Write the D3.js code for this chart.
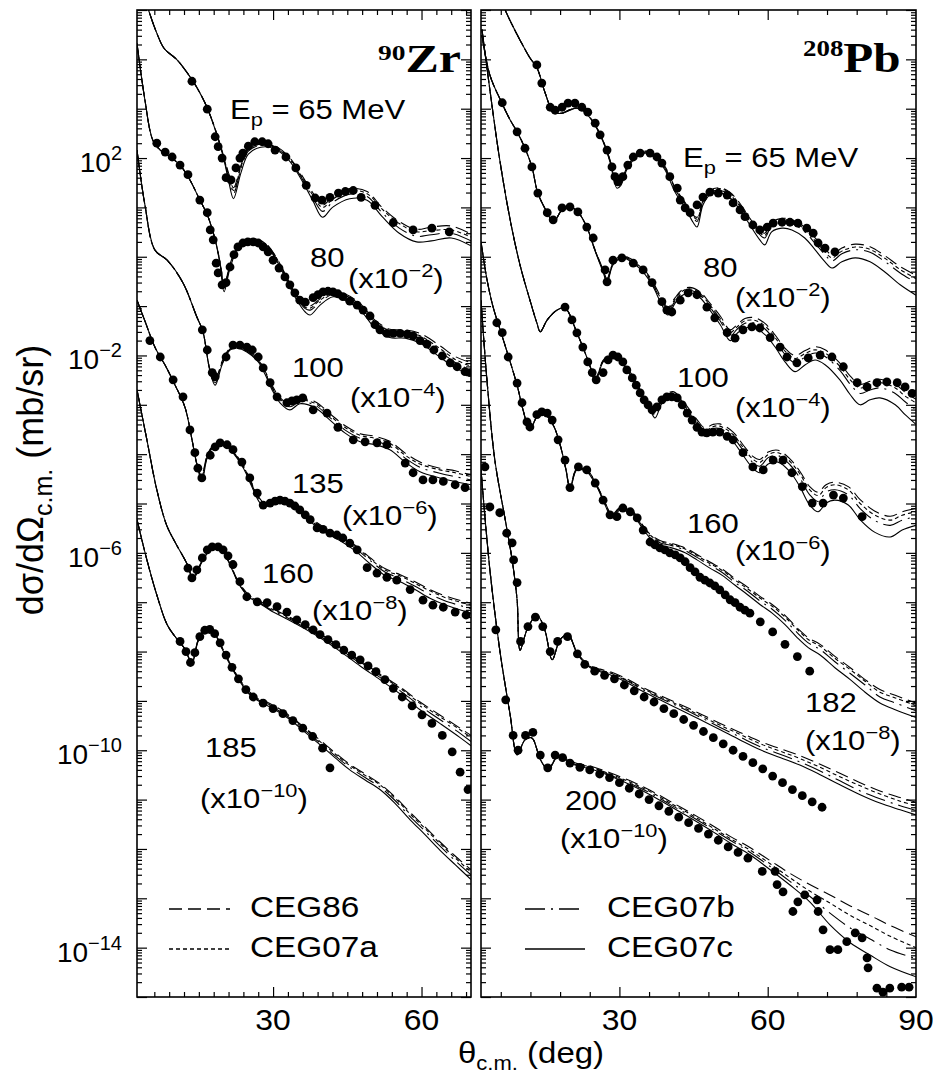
<!DOCTYPE html>
<html>
<head>
<meta charset="utf-8">
<script src="https://cdnjs.cloudflare.com/ajax/libs/d3/7.8.5/d3.min.js"></script>
<style>
  html, body { margin: 0; padding: 0; background: #fff; }
  svg { display: block; }
</style>
</head>
<body>
<svg id="chart" width="933" height="1076"></svg>
<script>
// ---------------------------------------------------------------------------
// Proton elastic scattering, dσ/dΩ (mb/sr) vs θc.m. (deg).
// Each energy has a shared angle grid for the four optical-model curves
// (CEG86, CEG07a, CEG07b, CEG07c) plus the measured points [θ, dσ/dΩ].
// Values are unscaled; the plotting offsets (x10^-n) are applied when drawn.
// ---------------------------------------------------------------------------

// ----- 90Zr -----
const zrEnergies = [65, 80, 100, 135, 160, 185];
const zrScales   = [1, 1e-2, 1e-4, 1e-6, 1e-8, 1e-10];

const zr65Theta  = [3, 5, 6.5, 8, 10.5, 12.5, 14.5, 16.5, 18.5, 20, 21, 22, 23.5, 25, 27.5, 30, 33, 35.5, 38, 40, 42, 45.5, 49, 52, 55.5, 59, 62, 66, 70];
const zr65CEG07c = [4.0e5, 8.9e4, 3.4e4, 1.66e4, 1.0e4, 5.6e3, 2.8e3, 1.15e3, 330, 100, 35, 15, 50, 120, 166, 158, 95, 40, 14, 6.3, 10, 15, 14, 6.6, 3.0, 2.0, 2.1, 2.4, 1.66];
const zr65CEG86  = [4.0e5, 8.9e4, 3.4e4, 1.66e4, 1.0e4, 5.6e3, 2.8e3, 1.15e3, 340, 110, 50, 25, 71, 158, 200, 186, 112, 50, 20, 11.2, 16, 24, 21, 10, 5.2, 3.6, 4.0, 4.2, 2.9];
const zr65CEG07a = [4.0e5, 8.9e4, 3.4e4, 1.66e4, 1.0e4, 5.6e3, 2.8e3, 1.15e3, 335, 105, 45, 22, 66, 148, 190, 178, 107, 47, 18, 10, 14.5, 22, 19, 9.3, 4.7, 3.2, 3.4, 3.5, 2.5];
const zr65CEG07b = [4.0e5, 8.9e4, 3.4e4, 1.66e4, 1.0e4, 5.6e3, 2.8e3, 1.15e3, 332, 103, 40, 19, 60, 138, 182, 170, 102, 44, 16, 8.3, 12.6, 18.6, 16.6, 7.9, 3.8, 2.6, 2.8, 3.0, 2.1];
const zr65Data = [[13.6,3.6e3],[16.7,980],[18.3,270],[18.9,170],[19.7,100],[20.5,40],[21.5,36],[22.5,63],[23.3,100],[23.9,126],[25,174],[26.3,214],[27.8,214],[29,195],[30.4,145],[32.6,105],[34.6,63],[36.7,28],[38.5,15.5],[39.9,14],[41.5,16],[43.2,19.5],[44.6,21],[46.2,22],[47.8,16],[50.6,11],[54.3,4.9],[58.3,3.5],[62.1,3.8],[65.6,3.2]];

const zr80Theta  = [2.5, 4.1, 5.7, 7.2, 9.2, 11.2, 13.2, 15.2, 16.7, 18.3, 19.3, 20.1, 21.3, 22.9, 24.4, 26.4, 28.4, 30.4, 32.4, 34.4, 36.5, 37.5, 39.5, 42.1, 44.5, 47.6, 50.6, 53.6, 56.7, 59.7, 63.7, 66.8, 70];
const zr80CEG07c = [2.1e6, 1.5e5, 2.3e4, 1.45e4, 1.05e4, 7.2e3, 3.6e3, 1.41e3, 710, 220, 68, 19.5, 59, 150, 200, 209, 174, 95, 39, 15.5, 7.6, 6.6, 10.5, 15.5, 13.2, 8.3, 3.6, 2.3, 2.24, 1.78, 0.93, 0.56, 0.40];
const zr80CEG86  = [2.1e6, 1.5e5, 2.3e4, 1.45e4, 1.05e4, 7.2e3, 3.6e3, 1.41e3, 710, 220, 76, 26, 71, 170, 219, 229, 190, 107, 46, 19, 10.5, 10, 14, 20, 17.8, 11.2, 5.2, 3.4, 3.3, 2.8, 1.58, 0.95, 0.71];
const zr80CEG07a = [2.1e6, 1.5e5, 2.3e4, 1.45e4, 1.05e4, 7.2e3, 3.6e3, 1.41e3, 710, 220, 74, 25, 68, 162, 214, 224, 186, 105, 44, 18, 9.5, 9.1, 13.2, 18.6, 16.6, 10.5, 4.8, 3.2, 3.0, 2.5, 1.38, 0.83, 0.6];
const zr80CEG07b = [2.1e6, 1.5e5, 2.3e4, 1.45e4, 1.05e4, 7.2e3, 3.6e3, 1.41e3, 710, 220, 72, 24, 65, 158, 209, 219, 182, 100, 42, 17, 8.9, 8.3, 12, 17.4, 15, 9.5, 4.4, 2.8, 2.7, 2.2, 1.2, 0.72, 0.5];
const zr80Data = [[6.5,2.0e4],[8.2,1.32e4],[9.6,1.05e4],[11.2,7.2e3],[12.8,4.6e3],[15.2,1.41e3],[16.7,780],[17.3,350],[17.9,220],[18.5,74],[18.9,47],[19.7,27],[20.5,30],[21.3,62],[22.1,110],[22.9,158],[23.9,190],[24.9,200],[26,200],[27,190],[28,158],[29,126],[30,85],[31.2,59],[32.4,39],[33.4,27],[34.4,18.6],[35.4,13.2],[36.5,12],[38.1,14.8],[39.1,17],[40.1,19.5],[41.1,20],[42.1,19.5],[43.1,17.8],[44.1,15.5],[45.5,12.6],[47,10.5],[48.2,8.3],[49.6,6.3],[50.6,4.2],[51.6,3.3],[53,2.8],[54.3,2.8],[55.7,2.8],[57.1,2.7],[58.3,2.5],[59.7,2.0],[61.1,1.7],[62.5,1.29],[64.2,0.98],[65.8,0.71],[67.2,0.59],[68.8,0.47],[69.8,0.45]];

const zr100Theta  = [2.5, 4.1, 6.1, 8.6, 11.8, 14.6, 15.8, 17.3, 18.3, 19.7, 21.3, 22.9, 24.7, 27, 28.4, 29.8, 31.4, 33.4, 35.4, 38.5, 41.5, 44.5, 47.6, 50.6, 53.6, 56.7, 59.7, 63.7, 66.8, 70];
const zr100CEG07c = [1.45e6, 1.12e5, 1.38e4, 8.5e3, 2.95e3, 600, 310, 45, 25, 65, 129, 141, 117, 74, 41, 20, 11, 7.9, 10.5, 8.7, 4.9, 2.7, 1.78, 1.55, 1.23, 0.69, 0.44, 0.33, 0.28, 0.24];
const zr100CEG86  = [1.45e6, 1.12e5, 1.38e4, 8.5e3, 2.95e3, 600, 310, 50, 32, 76, 145, 158, 132, 85, 48, 25, 14, 10.5, 13.2, 11.5, 6.6, 3.8, 2.6, 2.3, 1.82, 1.05, 0.69, 0.52, 0.46, 0.38];
const zr100CEG07a = [1.45e6, 1.12e5, 1.38e4, 8.5e3, 2.95e3, 600, 310, 48, 30, 72, 141, 155, 129, 81, 46, 23, 13.2, 9.8, 12.3, 10.7, 6.0, 3.5, 2.4, 2.1, 1.66, 0.95, 0.63, 0.48, 0.42, 0.35];
const zr100CEG07b = [1.45e6, 1.12e5, 1.38e4, 8.5e3, 2.95e3, 600, 310, 47, 28, 69, 135, 148, 123, 78, 44, 22, 12.3, 9.1, 11.5, 9.8, 5.5, 3.1, 2.1, 1.82, 1.45, 0.83, 0.54, 0.41, 0.35, 0.30];
const zr100Data = [[15.7,330],[16.7,129],[17.7,45],[18.3,37],[20.5,93],[21.9,162],[23.3,162],[24.7,148],[25.8,129],[27,93],[28,56],[29.4,28],[30.8,14.5],[32.8,11],[33.8,12],[34.8,12.6],[36,13.8],[38.1,7.9],[40.9,6.8],[43.1,3.5],[46.2,1.95],[48.6,1.78],[51,1.7],[53,1.55],[56.7,0.66],[58.3,0.42],[60.3,0.30],[62.3,0.30],[64.4,0.28],[66.8,0.24],[68.8,0.21]];

const zr135Theta  = [2.5, 4.1, 6.2, 8.2, 10.2, 12.2, 13.6, 14.6, 15.6, 16.6, 17.6, 19.3, 20.9, 22.5, 24.1, 25.7, 27.1, 28.2, 29.8, 31.6, 33.6, 35.6, 37.6, 40.5, 43.5, 46.5, 49.6, 52.6, 55.7, 58.7, 61.7, 64.7, 70];
const zr135CEG07c = [1.32e5, 5.0e4, 1.41e4, 6.3e3, 2.5e3, 890, 200, 63, 28, 79, 126, 151, 135, 89, 50, 22, 11.2, 8.5, 10, 10.5, 8.9, 6.3, 4.2, 2.6, 1.78, 1.12, 0.6, 0.35, 0.26, 0.18, 0.12, 0.089, 0.06];
const zr135CEG86  = [1.32e5, 5.0e4, 1.41e4, 6.3e3, 2.5e3, 890, 200, 63, 40, 89, 138, 162, 145, 98, 56, 26, 13.5, 10.5, 12, 12.3, 10.5, 7.6, 5.1, 3.2, 2.2, 1.45, 0.8, 0.48, 0.36, 0.26, 0.18, 0.135, 0.095];
const zr135CEG07a = [1.32e5, 5.0e4, 1.41e4, 6.3e3, 2.5e3, 890, 200, 63, 36, 86, 135, 158, 141, 95, 54, 25, 13, 10, 11.5, 11.7, 10, 7.2, 4.8, 3.0, 2.1, 1.38, 0.76, 0.45, 0.34, 0.24, 0.17, 0.125, 0.087];
const zr135CEG07b = [1.32e5, 5.0e4, 1.41e4, 6.3e3, 2.5e3, 890, 200, 63, 33, 83, 132, 155, 138, 93, 52, 24, 12.3, 9.5, 11, 11.2, 9.6, 6.8, 4.5, 2.8, 1.95, 1.26, 0.7, 0.41, 0.3, 0.21, 0.145, 0.107, 0.074];
const zr135Data = [[5.1,2.0e4],[7.2,9.3e3],[9.8,3.2e3],[11.8,1.45e3],[13.2,310],[14.2,107],[14.8,52],[15.6,33],[17.3,95],[18.3,141],[19.3,170],[20.7,155],[21.9,123],[23.7,69],[25.3,33],[26.8,16.2],[28,9.3],[29.4,10.2],[30.4,11.2],[31.4,11.7],[32.4,11.2],[33.4,10.2],[34.4,8.9],[35.4,7.4],[36.5,5.9],[37.5,4.7],[38.9,3.2],[40.1,3.0],[41.5,2.5],[42.9,2.3],[44.1,2.0],[45.5,1.58],[47,1.15],[49,0.5],[51,0.39],[53,0.32],[55,0.28],[57.7,0.18],[60.3,0.11],[62.3,0.087],[64.4,0.079],[66.8,0.063],[69,0.055]];

const zr160Theta  = [2.5, 4.5, 6.5, 8.5, 10.5, 12.6, 13.8, 14.6, 15.6, 17.0, 18.5, 20.0, 21.6, 23.2, 25.3, 27.4, 29.4, 32.4, 35.4, 39.5, 43.5, 47.6, 51.6, 55.7, 59.7, 63.7, 67.8, 70];
const zr160CEG07c = [2.0e5, 1.95e4, 1.9e3, 360, 145, 60, 29, 38, 65, 105, 126, 100, 49, 22, 12.3, 9.3, 6.9, 4.8, 3.3, 1.9, 1.02, 0.51, 0.27, 0.138, 0.066, 0.035, 0.018, 0.0123];
const zr160CEG86  = [2.0e5, 1.95e4, 1.9e3, 360, 145, 60, 32, 41, 68, 107, 128, 102, 51, 24, 13.5, 10.5, 7.9, 5.6, 3.9, 2.3, 1.26, 0.65, 0.35, 0.19, 0.095, 0.052, 0.028, 0.02];
const zr160CEG07a = [2.0e5, 1.95e4, 1.9e3, 360, 145, 60, 31, 40, 67, 106, 127, 101, 50, 23, 13, 10, 7.6, 5.4, 3.7, 2.2, 1.2, 0.62, 0.33, 0.18, 0.089, 0.048, 0.026, 0.018];
const zr160CEG07b = [2.0e5, 1.95e4, 1.9e3, 360, 145, 60, 30, 39, 66, 105, 126, 100, 50, 22.5, 12.6, 9.6, 7.2, 5.1, 3.5, 2.05, 1.12, 0.57, 0.3, 0.16, 0.079, 0.042, 0.022, 0.015];
const zr160Data = [[12.8,49],[13.6,31],[14.6,45],[15.7,79],[16.7,115],[17.7,132],[18.9,132],[19.9,115],[20.9,87],[21.9,58],[23.3,26],[24.7,12.9],[26.8,10.2],[28.8,9.8],[30.8,8.1],[32.8,6.3],[34.8,4.4],[36.5,3.5],[38.1,2.75],[39.5,2.2],[41.1,1.74],[42.7,1.38],[44.3,1.07],[45.9,0.85],[47.6,0.68],[49.2,0.51],[50.8,0.39],[52.6,0.27],[54.3,0.18],[56.1,0.12],[58.1,0.079],[60.1,0.052],[62.1,0.035],[64.2,0.02],[66.2,0.0093],[67.8,0.0036],[69.4,0.0016]];

const zr185Theta  = [2.5, 4.5, 6.5, 8.6, 10.6, 12.2, 13.6, 14.8, 16.2, 17.7, 19.3, 21.3, 23.3, 25.3, 27.4, 30.4, 33.4, 36.5, 39.5, 42.5, 45.5, 48.6, 51.6, 54.6, 57.7, 60.7, 63.7, 66.8, 70];
const zr185CEG07c = [4.7e4, 7.2e3, 1.41e3, 350, 178, 112, 56, 158, 282, 275, 138, 54, 24.5, 13.2, 9.5, 6.6, 4.2, 2.3, 1.29, 0.71, 0.4, 0.25, 0.16, 0.085, 0.039, 0.0195, 0.0095, 0.0048, 0.0024];
const zr185CEG86  = [4.7e4, 7.2e3, 1.41e3, 350, 178, 112, 62, 165, 290, 285, 145, 58, 27, 15, 11, 7.8, 5.0, 2.8, 1.6, 0.9, 0.52, 0.33, 0.21, 0.115, 0.055, 0.028, 0.014, 0.0072, 0.0038];
const zr185CEG07a = [4.7e4, 7.2e3, 1.41e3, 350, 178, 112, 60, 162, 286, 280, 142, 57, 26, 14.5, 10.5, 7.4, 4.8, 2.7, 1.5, 0.85, 0.49, 0.31, 0.2, 0.108, 0.051, 0.026, 0.013, 0.0066, 0.0034];
const zr185CEG07b = [4.7e4, 7.2e3, 1.41e3, 350, 178, 112, 58, 160, 284, 278, 140, 56, 25, 13.8, 10, 7.0, 4.5, 2.5, 1.4, 0.78, 0.45, 0.28, 0.18, 0.097, 0.045, 0.023, 0.0115, 0.0058, 0.003];
const zr185Data = [[11.2,160],[12.4,100],[13.3,60],[14.2,95],[15.2,200],[16.2,270],[17.2,280],[18.2,230],[19.3,150],[20.5,85],[21.7,48],[23,28],[24.5,17],[26,12],[28,9],[30,7],[32,5.5],[34,4],[36,2.8],[38,1.9],[40,1.1],[41.5,0.44]];

// ----- 208Pb -----
const pbEnergies = [65, 80, 100, 160, 182, 200];
const pbScales   = [1, 1e-2, 1e-4, 1e-6, 1e-8, 1e-10];

const pb65Theta  = [6, 6.9, 8.3, 9.9, 11.9, 13.3, 14.9, 16.4, 17.4, 18.6, 20, 21.4, 23, 25, 26.7, 28.1, 29.5, 30.3, 31.5, 33.2, 35.2, 37.2, 39.2, 41.3, 43.3, 44.9, 45.7, 46.9, 48.3, 50.4, 52.4, 54.4, 56.4, 58.4, 59.4, 60.8, 62.9, 64.9, 67.5, 69.6, 71.6, 73, 75, 77.7, 80.7, 83.7, 86.8, 90];
const pb65CEG07c = [1.78e5, 1.0e5, 5.0e4, 2.45e4, 1.07e4, 6.8e3, 2.2e3, 930, 810, 810, 930, 1.02e3, 850, 470, 214, 83, 24.5, 28, 58, 100, 126, 105, 58, 20, 9.8, 5.0, 4.0, 11.2, 17.8, 19.5, 15.5, 8.9, 4.4, 2.2, 1.74, 3.2, 3.8, 3.5, 2.4, 1.38, 0.79, 0.59, 0.79, 0.95, 0.79, 0.49, 0.27, 0.166];
const pb65CEG86  = [1.78e5, 1.0e5, 5.0e4, 2.45e4, 1.07e4, 6.8e3, 2.2e3, 930, 810, 830, 960, 1.05e3, 880, 490, 225, 92, 30, 33, 64, 110, 138, 118, 68, 25, 12.5, 7.0, 6.3, 13.5, 22, 25, 20, 12, 6.0, 3.4, 3.0, 5.0, 6.0, 5.6, 4.0, 2.4, 1.45, 1.1, 1.5, 1.8, 1.6, 1.05, 0.63, 0.42];
const pb65CEG07a = [1.78e5, 1.0e5, 5.0e4, 2.45e4, 1.07e4, 6.8e3, 2.2e3, 930, 810, 825, 955, 1.04e3, 875, 485, 222, 90, 29, 32, 63, 108, 135, 115, 65, 24, 12, 6.6, 5.8, 13, 21, 24, 19, 11.2, 5.6, 3.1, 2.7, 4.6, 5.6, 5.2, 3.6, 2.1, 1.26, 0.95, 1.3, 1.58, 1.41, 0.93, 0.55, 0.36];
const pb65CEG07b = [1.78e5, 1.0e5, 5.0e4, 2.45e4, 1.07e4, 6.8e3, 2.2e3, 930, 810, 820, 945, 1.03e3, 865, 480, 219, 88, 28, 31, 61, 105, 132, 112, 63, 23, 11.2, 6.2, 5.2, 12.3, 20, 22, 17.8, 10.5, 5.2, 2.8, 2.4, 4.2, 5.0, 4.7, 3.2, 1.86, 1.1, 0.82, 1.15, 1.38, 1.23, 0.8, 0.47, 0.3];
const pb65Data = [[13.3,7.7e3],[14.3,3.3e3],[16,1.07e3],[17,930],[18.4,1.07e3],[19.6,1.3e3],[21,1.3e3],[22.4,1.07e3],[23.6,850],[25.1,510],[26.1,295],[27.5,145],[28.5,66],[29.1,42],[29.7,33],[30.7,42],[31.7,72],[32.8,105],[34.2,126],[36.2,126],[37.6,105],[38.6,79],[40.2,42],[41.7,24.5],[42.3,14.1],[43.3,9.8],[44.3,7.8],[45.7,11.2],[46.9,16.2],[48.3,20.4],[50,19.5],[51.8,17.8],[53,12.3],[54.4,8.9],[55.4,6.5],[57,4.4],[58.4,3.5],[59.9,4.0],[61.1,4.8],[62.9,5.0],[64.5,5.0],[66.1,4.8],[67.9,3.8],[69.2,3.0],[70.2,1.9],[71.6,1.5],[73.6,1.26]];

const pb80Theta  = [2.2, 3.8, 6.2, 7.9, 9.3, 10.9, 12.3, 13.5, 15.4, 16.6, 18.4, 20, 21.6, 23.4, 25, 26.7, 27.5, 28.7, 30.5, 32.8, 34.8, 36.6, 38.6, 39.8, 41.2, 42.6, 44.2, 46.3, 48.3, 50.4, 52.4, 53.8, 55.4, 57.5, 59.5, 61.5, 63.5, 65.5, 67.6, 69.6, 71.6, 74.6, 76.7, 78.7, 80.7, 82.7, 85.8, 87.8, 90];
const pb80CEG07c = [3.1e6, 4.8e5, 1.32e5, 5.9e4, 3.4e4, 1.58e4, 6.6e3, 1.95e3, 780, 500, 890, 1.02e3, 810, 400, 138, 49, 30, 68, 95, 74, 49, 27, 10.5, 6.6, 11.2, 16.2, 18.6, 14.8, 8.3, 4.2, 2.0, 2.8, 3.6, 3.6, 2.6, 1.48, 0.74, 0.47, 0.65, 0.81, 0.65, 0.32, 0.16, 0.1, 0.126, 0.138, 0.1, 0.063, 0.04];
const pb80CEG86  = [3.1e6, 4.8e5, 1.32e5, 5.9e4, 3.4e4, 1.58e4, 6.6e3, 1.95e3, 780, 500, 890, 1.02e3, 810, 400, 145, 55, 36, 75, 105, 85, 58, 33, 14, 9.5, 14.5, 21, 24, 19.5, 11.5, 6.3, 3.3, 4.2, 5.6, 5.8, 4.4, 2.6, 1.4, 1.0, 1.26, 1.5, 1.3, 0.7, 0.38, 0.26, 0.3, 0.33, 0.26, 0.18, 0.13];
const pb80CEG07a = [3.1e6, 4.8e5, 1.32e5, 5.9e4, 3.4e4, 1.58e4, 6.6e3, 1.95e3, 780, 500, 890, 1.02e3, 810, 400, 142, 53, 34, 73, 102, 81, 55, 31, 13, 8.8, 13.5, 19.5, 22.5, 18, 10.5, 5.6, 2.9, 3.8, 5.0, 5.1, 3.9, 2.3, 1.23, 0.87, 1.1, 1.3, 1.12, 0.6, 0.32, 0.22, 0.25, 0.28, 0.22, 0.15, 0.11];
const pb80CEG07b = [3.1e6, 4.8e5, 1.32e5, 5.9e4, 3.4e4, 1.58e4, 6.6e3, 1.95e3, 780, 500, 890, 1.02e3, 810, 400, 140, 51, 32, 71, 99, 78, 52, 29, 12, 7.8, 12.5, 18, 21, 16.6, 9.5, 5.0, 2.5, 3.4, 4.5, 4.5, 3.4, 2.0, 1.05, 0.71, 0.93, 1.12, 0.95, 0.5, 0.26, 0.17, 0.2, 0.22, 0.17, 0.115, 0.08];
const pb80Data = [[6.3,1.32e5],[9.3,3.4e4],[10.9,1.58e4],[12.3,6.6e3],[13.5,1.95e3],[15.4,780],[16.6,560],[18.4,980],[20,1.02e3],[21.6,810],[23.4,400],[24.7,240],[27.1,54],[27.5,31],[28.7,85],[30.5,95],[32.8,74],[34.8,54],[36.6,30],[38.6,12.3],[39.6,8.3],[40.6,7.6],[42.3,13.2],[43.9,18.6],[45.7,17],[47.7,9.5],[49.3,5.8],[51.8,2.9],[53.4,2.24],[55,3.3],[56.8,3.8],[58.4,3.6],[60.5,2.3],[62.5,1.48],[63.9,0.93],[65.9,0.71],[68.2,0.89],[70.6,1.02],[73,0.93],[75.3,0.59],[78.1,0.28],[80.1,0.23],[82.1,0.28],[84.1,0.29],[86.2,0.28],[87.8,0.23],[89.2,0.17]];

const pb100Theta  = [2.2, 3.8, 5.8, 7.9, 9.9, 11.9, 13.3, 14, 15.4, 17.4, 19, 21.4, 22.6, 24.1, 25.1, 26.7, 28.1, 29.5, 31.5, 33.2, 34.8, 36.2, 37.2, 38.8, 40.8, 42.2, 43.7, 45.7, 47.3, 48.9, 50.3, 53, 55, 57, 58.4, 60.1, 62.1, 64.5, 66.5, 68.5, 70.2, 71.8, 73.6, 76.3, 78.7, 81.7, 84.8, 87.2, 90];
const pb100CEG07c = [4.0e8, 2.4e7, 9.1e5, 5.6e4, 6.8e3, 1.32e3, 457, 302, 525, 832, 912, 288, 148, 59, 28.8, 74, 93, 89, 51, 27.5, 12.6, 7.9, 5.4, 11.5, 14.5, 11, 6.8, 3.5, 2.3, 2.8, 2.8, 1.78, 0.95, 0.52, 0.42, 0.63, 0.69, 0.44, 0.22, 0.093, 0.068, 0.102, 0.117, 0.093, 0.047, 0.026, 0.021, 0.029, 0.036];
const pb100CEG86  = [4.0e8, 2.4e7, 9.1e5, 5.6e4, 6.8e3, 1.32e3, 457, 302, 525, 832, 912, 288, 148, 59, 33, 80, 100, 98, 57, 32, 15.5, 10, 7.5, 14.5, 18.5, 14.5, 9.3, 5.0, 3.4, 4.0, 4.1, 2.8, 1.55, 0.9, 0.78, 1.1, 1.2, 0.8, 0.45, 0.22, 0.17, 0.24, 0.27, 0.22, 0.12, 0.07, 0.055, 0.068, 0.08];
const pb100CEG07a = [4.0e8, 2.4e7, 9.1e5, 5.6e4, 6.8e3, 1.32e3, 457, 302, 525, 832, 912, 288, 148, 59, 31.5, 78, 97, 95, 55, 30.5, 14.5, 9.3, 6.8, 13.5, 17.4, 13.5, 8.5, 4.5, 3.0, 3.6, 3.7, 2.5, 1.38, 0.79, 0.68, 0.98, 1.07, 0.71, 0.4, 0.19, 0.145, 0.21, 0.24, 0.19, 0.1, 0.058, 0.046, 0.058, 0.068];
const pb100CEG07b = [4.0e8, 2.4e7, 9.1e5, 5.6e4, 6.8e3, 1.32e3, 457, 302, 525, 832, 912, 288, 148, 59, 30.5, 76, 95, 93, 53, 29, 13.8, 8.7, 6.2, 12.8, 16.2, 12.6, 7.9, 4.1, 2.7, 3.3, 3.3, 2.2, 1.2, 0.68, 0.57, 0.85, 0.93, 0.61, 0.33, 0.15, 0.11, 0.17, 0.19, 0.15, 0.079, 0.045, 0.036, 0.046, 0.054];
const pb100Data = [[19,955],[20.4,525],[21.4,288],[22.6,148],[23.6,74],[24.5,45],[25.3,32],[26.7,45],[27.7,81],[28.7,102],[29.7,93],[30.7,74],[31.5,51],[32.6,35],[33.4,25],[34.2,17.4],[35,12.6],[35.8,10],[36.6,7.9],[37.6,9.1],[38.6,12.6],[39.6,14.5],[40.6,14.5],[41.7,13.8],[42.7,10],[43.7,6.8],[44.7,4.9],[45.7,3.5],[46.7,2.8],[47.7,2.7],[48.9,2.8],[50.3,2.8],[51.8,2.3],[53,1.95],[55,1.07],[57,0.55],[59.1,0.48],[61.1,0.76],[63.1,0.76],[64.9,0.42],[67,0.22],[69,0.102],[71.2,0.102],[73.3,0.148],[75.3,0.129],[79.1,0.054]];

const pb160Theta  = [2, 3.2, 4.4, 5.8, 7.5, 9.3, 10.5, 11.9, 13.3, 14.9, 16.6, 18, 19.2, 20, 21.4, 23.4, 25.5, 27.1, 28.5, 30.1, 32.2, 34.2, 36.2, 38.2, 40.6, 43.3, 45.7, 48.3, 50.8, 53.4, 56, 58.5, 60.9, 63.5, 66, 68.2, 70.6, 73.6, 76.7, 79.7, 82.7, 85.8, 90];
const pb160CEG07c = [2.0e6, 3.5e5, 1.0e5, 3.5e4, 1.0e4, 2.5e3, 790, 310, 560, 630, 390, 155, 48, 19, 48, 44, 21, 9.3, 5.1, 7.4, 6.8, 3.7, 2.0, 1.45, 1.26, 1.0, 0.72, 0.49, 0.35, 0.22, 0.14, 0.089, 0.06, 0.035, 0.019, 0.012, 0.0085, 0.0047, 0.0027, 0.0015, 0.00091, 0.00066, 0.00046];
const pb160CEG86  = [2.0e6, 3.5e5, 1.0e5, 3.5e4, 1.0e4, 2.5e3, 790, 310, 560, 630, 390, 155, 48, 22, 52, 48, 23, 10.5, 6, 8.3, 7.8, 4.3, 2.4, 1.78, 1.55, 1.26, 0.93, 0.65, 0.47, 0.3, 0.2, 0.13, 0.09, 0.054, 0.03, 0.019, 0.014, 0.008, 0.0047, 0.0027, 0.0017, 0.0013, 0.0009];
const pb160CEG07a = [2.0e6, 3.5e5, 1.0e5, 3.5e4, 1.0e4, 2.5e3, 790, 310, 560, 630, 390, 155, 48, 21, 51, 47, 22.5, 10.2, 5.8, 8.1, 7.6, 4.2, 2.3, 1.7, 1.48, 1.2, 0.88, 0.61, 0.44, 0.28, 0.185, 0.12, 0.083, 0.05, 0.028, 0.0175, 0.0128, 0.0073, 0.0043, 0.0025, 0.0015, 0.00115, 0.0008];
const pb160CEG07b = [2.0e6, 3.5e5, 1.0e5, 3.5e4, 1.0e4, 2.5e3, 790, 310, 560, 630, 390, 155, 48, 20, 50, 46, 22, 9.8, 5.5, 7.8, 7.2, 4.0, 2.2, 1.6, 1.4, 1.12, 0.81, 0.56, 0.4, 0.25, 0.165, 0.105, 0.072, 0.043, 0.024, 0.015, 0.011, 0.0062, 0.0036, 0.0021, 0.0012, 0.00091, 0.00063];
const pb160Data = [[5.2,4.6e4],[6.3,2.9e4],[7.5,9.3e3],[9.3,2.75e3],[10.3,1.1e3],[11.3,450],[11.9,355],[13.3,630],[14.3,720],[15.4,680],[16.4,490],[17.6,195],[19,76],[20,21],[21.7,55],[23.4,48],[25.1,26],[26.7,11.7],[28.1,5.9],[29.5,5.4],[30.7,8.1],[32.2,6.8],[33.6,5.1],[34.8,2.9],[36.2,1.66],[37.2,1.45],[38.2,1.26],[39.2,1.15],[40.2,1.0],[41.3,0.91],[42.3,0.79],[43.3,0.66],[44.3,0.5],[45.3,0.41],[46.3,0.32],[47.3,0.28],[48.3,0.245],[49.3,0.214],[50.3,0.178],[51.4,0.141],[52.4,0.112],[53.4,0.098],[54.4,0.079],[55.4,0.069],[56.4,0.06],[58.5,0.04],[61,0.025],[63.5,0.014],[66,0.0079],[68.5,0.004]];

const pb182Theta  = [2, 3.2, 4.8, 6.9, 8.3, 9.3, 9.9, 11.3, 13.3, 14.9, 16.4, 18, 19.6, 21.6, 24.1, 26.1, 28.1, 31.2, 34.2, 38.2, 42.3, 46.3, 50.4, 54.4, 58.5, 62.5, 66.5, 70.6, 74.6, 78.7, 82.7, 86.8, 90];
const pb182CEG07c = [1.3e7, 3.2e5, 7.6e3, 470, 72, 11.2, 1.07, 2.75, 5.5, 2.75, 0.68, 1.74, 2.2, 0.85, 0.47, 0.39, 0.34, 0.245, 0.166, 0.105, 0.066, 0.042, 0.026, 0.0162, 0.0102, 0.0071, 0.005, 0.0032, 0.002, 0.00126, 0.00085, 0.00062, 0.00049];
const pb182CEG86  = [1.3e7, 3.2e5, 7.6e3, 470, 72, 11.2, 1.07, 2.75, 5.5, 2.75, 0.68, 1.74, 2.2, 0.9, 0.52, 0.44, 0.39, 0.29, 0.2, 0.13, 0.085, 0.055, 0.035, 0.023, 0.015, 0.0108, 0.0078, 0.0052, 0.0034, 0.0022, 0.0015, 0.0011, 0.00088];
const pb182CEG07a = [1.3e7, 3.2e5, 7.6e3, 470, 72, 11.2, 1.07, 2.75, 5.5, 2.75, 0.68, 1.74, 2.2, 0.88, 0.5, 0.42, 0.37, 0.275, 0.188, 0.122, 0.079, 0.051, 0.032, 0.021, 0.0135, 0.0096, 0.0068, 0.0045, 0.0029, 0.0019, 0.0013, 0.00093, 0.00074];
const pb182CEG07b = [1.3e7, 3.2e5, 7.6e3, 470, 72, 11.2, 1.07, 2.75, 5.5, 2.75, 0.68, 1.74, 2.2, 0.87, 0.49, 0.41, 0.36, 0.265, 0.18, 0.115, 0.074, 0.047, 0.029, 0.0185, 0.0118, 0.0083, 0.0058, 0.0038, 0.0024, 0.0015, 0.00104, 0.00075, 0.0006];
const pb182Data = [[2.8,5.5e3],[3.8,850],[5.8,650],[7.2,250],[8.3,160],[8.6,72],[9.3,25],[10,1.6],[11.5,3.2],[13,5],[14.5,3.2],[16,1],[17.5,1.6],[19.5,2],[21.5,0.9],[23,0.55],[25,0.4],[27,0.33],[29,0.28],[31,0.21],[33,0.16],[35,0.12],[37,0.095],[39,0.07],[41,0.055],[43,0.042],[45,0.032],[47,0.024],[49,0.018],[51,0.0135],[53,0.01],[55,0.0075],[57,0.0056],[59,0.0042],[61,0.003],[63,0.0022],[65,0.0016],[67,0.0012],[69,0.0009],[71,0.0007]];

const pb200Theta  = [2, 3.8, 5.8, 7.9, 9.3, 10.9, 12.3, 14, 15.6, 17.4, 19, 21, 24.1, 28.1, 32.2, 36.2, 40.2, 44.3, 48.3, 52.4, 56.4, 60.5, 64.5, 68.5, 72.6, 76.7, 80.7, 84.8, 90];
const pb200CEG07c = [4.8e5, 4.5e3, 107, 5.2, 0.81, 1.62, 1.78, 0.65, 0.40, 0.71, 0.65, 0.5, 0.42, 0.30, 0.2, 0.126, 0.074, 0.043, 0.0245, 0.0132, 0.0076, 0.0038, 0.00186, 0.00085, 0.00029, 0.000126, 0.000071, 0.000041, 0.0000257];
const pb200CEG86  = [4.8e5, 4.5e3, 107, 5.2, 0.81, 1.62, 1.78, 0.65, 0.42, 0.76, 0.72, 0.56, 0.48, 0.35, 0.24, 0.155, 0.093, 0.055, 0.032, 0.018, 0.0107, 0.0058, 0.0032, 0.0019, 0.00117, 0.0007, 0.00045, 0.00028, 0.000166];
const pb200CEG07a = [4.8e5, 4.5e3, 107, 5.2, 0.81, 1.62, 1.78, 0.65, 0.41, 0.74, 0.69, 0.54, 0.46, 0.33, 0.225, 0.145, 0.086, 0.051, 0.029, 0.0163, 0.0095, 0.005, 0.0026, 0.0014, 0.0008, 0.00045, 0.00028, 0.00017, 0.0001];
const pb200CEG07b = [4.8e5, 4.5e3, 107, 5.2, 0.81, 1.62, 1.78, 0.65, 0.405, 0.72, 0.67, 0.52, 0.44, 0.315, 0.212, 0.136, 0.08, 0.047, 0.027, 0.015, 0.0086, 0.0044, 0.0022, 0.0011, 0.0005, 0.00025, 0.00015, 0.00009, 0.00006];
const pb200Data = [[5,275],[7,10.5],[8.5,2.0],[9.5,1.0],[11,2.0],[12.5,2.3],[14,0.8],[15.5,0.44],[17,0.8],[18.5,0.71],[20,0.55],[22,0.45],[24,0.4],[26,0.33],[28,0.28],[30,0.22],[32,0.17],[34,0.13],[36,0.1],[38,0.075],[40,0.058],[42,0.044],[44,0.034],[46,0.026],[48,0.02],[50,0.015],[52,0.011],[54,0.0085],[56,0.0065],[58.9,0.0035],[61.5,0.0035],[61.9,0.0019],[63.1,0.00135],[65.1,0.00054],[66.1,0.00085],[67.5,0.00117],[70,0.00093],[70.2,0.00054],[71.2,0.00023],[72.6,0.000091],[74.2,0.000091],[76,0.000132],[77.7,0.0002],[79.1,0.000158],[80.1,0.000062],[80.3,0.000039],[82.1,0.0000151],[83.3,0.0000126],[84.7,0.0000151],[87.1,0.0000158],[88.6,0.0000158]];

// ----- model line styles -----
const modelKeys   = ['CEG86', 'CEG07a', 'CEG07b', 'CEG07c'];
const modelDashes = { CEG86: '13,6', CEG07a: '4,3', CEG07b: '20,6,2,6', CEG07c: null };

// ---------------------------------------------------------------------------
const W = 933, H = 1076;
const SANS = "'Liberation Sans', Arial, Helvetica, sans-serif";
const SERIF = "'Liberation Serif', 'Times New Roman', serif";
const svg = d3.select('#chart');
svg.append('rect').attr('width', W).attr('height', H).attr('fill', '#fff');

const plotTop = 10, plotBottom = 997;
const y = d3.scaleLog().domain([1e-15, 1e5]).range([plotBottom, plotTop]);

function bundle(theta, c86, c07a, c07b, c07c, data, energy, scale) {
  return { theta, energy, scale, data, curves: { CEG86: c86, CEG07a: c07a, CEG07b: c07b, CEG07c: c07c } };
}

const zrSeries = [
  bundle(zr65Theta,  zr65CEG86,  zr65CEG07a,  zr65CEG07b,  zr65CEG07c,  zr65Data,  zrEnergies[0], zrScales[0]),
  bundle(zr80Theta,  zr80CEG86,  zr80CEG07a,  zr80CEG07b,  zr80CEG07c,  zr80Data,  zrEnergies[1], zrScales[1]),
  bundle(zr100Theta, zr100CEG86, zr100CEG07a, zr100CEG07b, zr100CEG07c, zr100Data, zrEnergies[2], zrScales[2]),
  bundle(zr135Theta, zr135CEG86, zr135CEG07a, zr135CEG07b, zr135CEG07c, zr135Data, zrEnergies[3], zrScales[3]),
  bundle(zr160Theta, zr160CEG86, zr160CEG07a, zr160CEG07b, zr160CEG07c, zr160Data, zrEnergies[4], zrScales[4]),
  bundle(zr185Theta, zr185CEG86, zr185CEG07a, zr185CEG07b, zr185CEG07c, zr185Data, zrEnergies[5], zrScales[5])
];
const pbSeries = [
  bundle(pb65Theta,  pb65CEG86,  pb65CEG07a,  pb65CEG07b,  pb65CEG07c,  pb65Data,  pbEnergies[0], pbScales[0]),
  bundle(pb80Theta,  pb80CEG86,  pb80CEG07a,  pb80CEG07b,  pb80CEG07c,  pb80Data,  pbEnergies[1], pbScales[1]),
  bundle(pb100Theta, pb100CEG86, pb100CEG07a, pb100CEG07b, pb100CEG07c, pb100Data, pbEnergies[2], pbScales[2]),
  bundle(pb160Theta, pb160CEG86, pb160CEG07a, pb160CEG07b, pb160CEG07c, pb160Data, pbEnergies[3], pbScales[3]),
  bundle(pb182Theta, pb182CEG86, pb182CEG07a, pb182CEG07b, pb182CEG07c, pb182Data, pbEnergies[4], pbScales[4]),
  bundle(pb200Theta, pb200CEG86, pb200CEG07a, pb200CEG07b, pb200CEG07c, pb200Data, pbEnergies[5], pbScales[5])
];

const panels = [
  { id: 'zr', left: 137, right: 471, domain: [2.5, 70], ticks: d3.range(6, 70, 3), labelled: [30, 60], series: zrSeries },
  { id: 'pb', left: 481, right: 916, domain: [2, 90],   ticks: d3.range(6, 91, 6), labelled: [30, 60, 90], series: pbSeries }
];

// log ticks: decades and 2..9 subdivisions
const decades = d3.range(-15, 6).map(k => Math.pow(10, k));
const minors = [];
d3.range(-15, 5).forEach(k => { for (let m = 2; m <= 9; m++) minors.push(m * Math.pow(10, k)); });

// rich text helper (superscripts / subscripts via tspans)
function richText(parent, x, yy, parts, opt = {}) {
  const size = opt.size || 27, sx = opt.sx || 1;
  const t = parent.append('text')
    .attr('transform', `translate(${x},${yy}) scale(${sx},1)`)
    .attr('font-family', opt.family || SANS)
    .attr('font-size', size)
    .attr('font-weight', opt.weight || 'normal')
    .attr('text-anchor', opt.anchor || 'start')
    .attr('fill', '#000');
  let shift = 0;
  parts.forEach(p => {
    const sp = t.append('tspan').text(p.t);
    let target = 0;
    if (p.sup) { sp.attr('font-size', p.size || size * 0.68); target = -(p.rise != null ? p.rise : size * 0.42); }
    else if (p.sub) { sp.attr('font-size', p.size || size * 0.68); target = (p.drop != null ? p.drop : size * 0.25); }
    if (target - shift !== 0) sp.attr('dy', target - shift);
    shift = target;
  });
  return t;
}

const defs = svg.append('defs');

panels.forEach(p => {
  const x = d3.scaleLinear().domain(p.domain).range([p.left, p.right]);
  const clipId = 'clip-' + p.id;
  defs.append('clipPath').attr('id', clipId)
    .append('rect').attr('x', p.left).attr('y', plotTop).attr('width', p.right - p.left).attr('height', plotBottom - plotTop);

  const plot = svg.append('g').attr('clip-path', `url(#${clipId})`);

  p.series.forEach(s => {
    const line = d3.line()
      .x(d => x(d[0]))
      .y(d => y(d[1] * s.scale))
      .curve(d3.curveCatmullRom.alpha(0.5));
    modelKeys.forEach(k => {
      const vals = s.curves[k];
      const pts = s.theta.map((t, i) => [t, vals[i]]).filter(d => d[1] != null);
      plot.append('path')
        .attr('d', line(pts))
        .attr('fill', 'none')
        .attr('stroke', '#000')
        .attr('stroke-width', 1.1)
        .attr('stroke-dasharray', modelDashes[k]);
    });
    plot.append('g').selectAll('circle').data(s.data).join('circle')
      .attr('cx', d => x(d[0]))
      .attr('cy', d => y(d[1] * s.scale))
      .attr('r', 4.4)
      .attr('fill', '#000');
  });

  // axes: inward ticks on all four sides
  const axes = svg.append('g');
  const clean = g => { g.select('.domain').remove(); g.selectAll('text').remove(); g.selectAll('line').attr('stroke', '#000').attr('stroke-width', 1.2); };

  axes.append('g').attr('transform', `translate(${p.left},0)`).call(d3.axisRight(y).tickValues(decades).tickSize(10).tickSizeOuter(0)).call(clean);
  axes.append('g').attr('transform', `translate(${p.left},0)`).call(d3.axisRight(y).tickValues(minors).tickSize(5).tickSizeOuter(0)).call(clean);
  axes.append('g').attr('transform', `translate(${p.right},0)`).call(d3.axisLeft(y).tickValues(decades).tickSize(10).tickSizeOuter(0)).call(clean);
  axes.append('g').attr('transform', `translate(${p.right},0)`).call(d3.axisLeft(y).tickValues(minors).tickSize(5).tickSizeOuter(0)).call(clean);

  const minorX = p.ticks.filter(t => !p.labelled.includes(t) && t < p.domain[1]);
  const majorX = p.labelled.filter(t => t < p.domain[1]);
  axes.append('g').attr('transform', `translate(0,${plotBottom})`).call(d3.axisTop(x).tickValues(minorX).tickSize(5).tickSizeOuter(0)).call(clean);
  axes.append('g').attr('transform', `translate(0,${plotBottom})`).call(d3.axisTop(x).tickValues(majorX).tickSize(10).tickSizeOuter(0)).call(clean);
  axes.append('g').attr('transform', `translate(0,${plotTop})`).call(d3.axisBottom(x).tickValues(minorX).tickSize(5).tickSizeOuter(0)).call(clean);
  axes.append('g').attr('transform', `translate(0,${plotTop})`).call(d3.axisBottom(x).tickValues(majorX).tickSize(10).tickSizeOuter(0)).call(clean);

  // frame
  svg.append('rect')
    .attr('x', p.left).attr('y', plotTop)
    .attr('width', p.right - p.left).attr('height', plotBottom - plotTop)
    .attr('fill', 'none').attr('stroke', '#000').attr('stroke-width', 1.6);

  // x tick labels
  p.labelled.forEach(t => {
    richText(svg, x(t), 1030, [{ t: String(t) }], { size: 29, sx: 1.1, anchor: 'middle' });
  });
});

// y tick labels (left panel only)
[2, -2, -6, -10, -14].forEach(k => {
  richText(svg, 122, y(Math.pow(10, k)) + 14,
    [{ t: '10' }, { t: (k < 0 ? '\u2212' : '') + Math.abs(k), sup: true, size: 20, rise: 12 }],
    { size: 28, anchor: 'end' });
});

// axis titles
richText(svg, 458, 1063, [{ t: '\u03B8' }, { t: 'c.m.', sub: true, size: 20, drop: 7 }, { t: ' (deg)' }], { size: 30, sx: 1.1 });
svg.append('g').attr('transform', 'translate(43,480) rotate(-90)')
  .call(g => richText(g, 0, 0, [{ t: 'd\u03C3/d\u03A9' }, { t: 'c.m.', sub: true, size: 25, drop: 9 }, { t: ' (mb/sr)' }], { size: 36, anchor: 'middle' }));

// nucleus names
richText(svg, 378, 72, [{ t: '90', sup: true, size: 22, rise: 12 }, { t: 'Zr' }], { size: 40, family: SERIF, weight: 'bold', sx: 1.25 });
richText(svg, 803, 72, [{ t: '208', sup: true, size: 23, rise: 16 }, { t: 'Pb' }], { size: 42, family: SERIF, weight: 'bold', sx: 1.17 });

// beam energy
const sub = (t) => ({ t, sub: true, size: 19, drop: 7 });
const sup = (t) => ({ t, sup: true, size: 19, rise: 11 });
richText(svg, 230, 119, [{ t: 'E' }, sub('p'), { t: ' = 65 MeV' }], { size: 27, sx: 1.15 });
richText(svg, 683, 167, [{ t: 'E' }, sub('p'), { t: ' = 65 MeV' }], { size: 27, sx: 1.15 });

// energy labels and their plotting offsets
const scaleText = (n) => [{ t: '(x10' }, sup('\u2212' + n), { t: ')' }];
const zrLabelPos = [null, [310, 267, 348, 288], [292, 377, 350, 407], [292, 493, 342, 525], [262, 583, 312, 620], [205, 757, 200, 808]];
const pbLabelPos = [null, [703, 277, 735, 307], [677, 387, 735, 417], [687, 533, 735, 560], [805, 712, 805, 750], [565, 810, 560, 848]];
[[zrEnergies, zrScales, zrLabelPos], [pbEnergies, pbScales, pbLabelPos]].forEach(([en, sc, pos]) => {
  en.forEach((e, i) => {
    if (!pos[i]) return;
    const [ex, ey, sx0, sy0] = pos[i];
    richText(svg, ex, ey, [{ t: String(e) }], { size: 27, sx: 1.15 });
    richText(svg, sx0, sy0, scaleText(Math.round(-Math.log10(sc[i]))), { size: 27, sx: 1.15 });
  });
});

// legends
function legendRow(x1, x2, yy, key, tx) {
  svg.append('line').attr('x1', x1).attr('x2', x2).attr('y1', yy).attr('y2', yy)
    .attr('stroke', '#000').attr('stroke-width', 1.3).attr('stroke-dasharray', modelDashes[key]);
  richText(svg, tx, yy + 8, [{ t: key }], { size: 29, sx: 1.15 });
}
legendRow(169, 230, 909, 'CEG86', 250);
legendRow(169, 230, 949, 'CEG07a', 250);
legendRow(525, 585, 909, 'CEG07b', 607);
legendRow(525, 585, 949, 'CEG07c', 607);
</script>
</body>
</html>
